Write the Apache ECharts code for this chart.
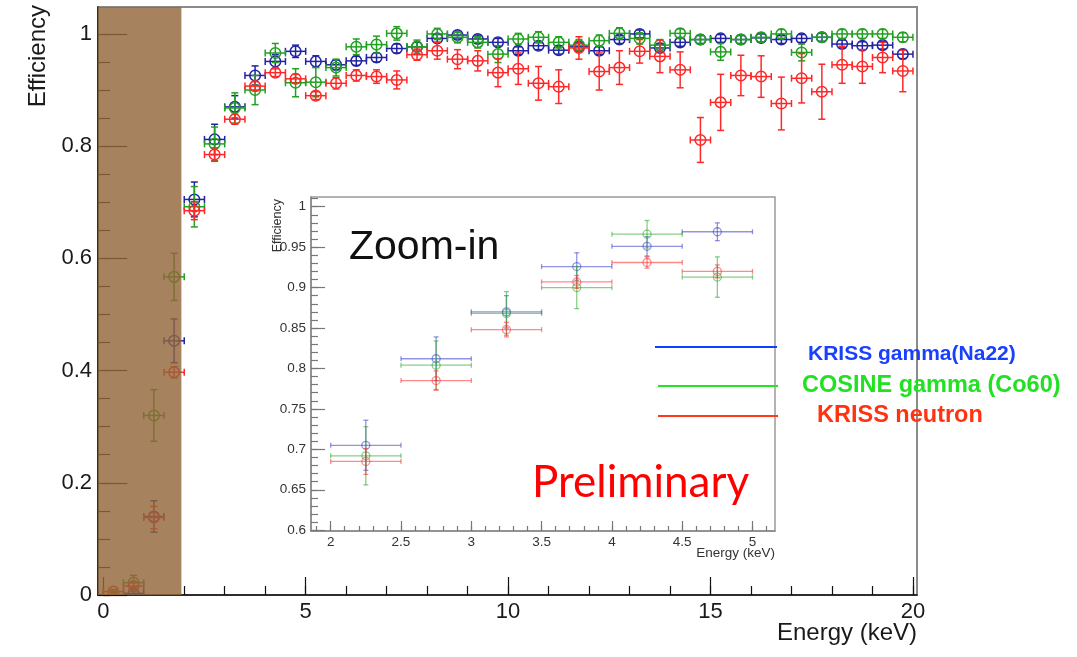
<!DOCTYPE html>
<html>
<head>
<meta charset="utf-8">
<script src="https://cdn.jsdelivr.net/npm/echarts@6/dist/echarts.min.js"></script>
<style>
html,body{margin:0;padding:0;background:#fff;}
#chart{width:1077px;height:657px;}
</style>
</head>
<body>
<div id="chart"></div>
<script>
// ---------------- data ----------------
const energy = [0.25,0.75,1.25,1.75,2.25,2.75,3.25,3.75,4.25,4.75,5.25,5.75,6.25,6.75,7.25,7.75,8.25,8.75,9.25,9.75,10.25,10.75,11.25,11.75,12.25,12.75,13.25,13.75,14.25,14.75,15.25,15.75,16.25,16.75,17.25,17.75,18.25,18.75,19.25,19.75];
const binHalfWidth = 0.25;

const krissGamma = [null,0.003,0.140,0.453,0.705,0.812,0.870,0.926,0.951,0.969,0.951,0.945,0.952,0.958,0.974,0.977,0.992,0.998,0.991,0.985,0.970,0.979,0.971,0.977,0.970,0.990,1.000,0.975,0.985,0.990,0.992,0.990,0.993,0.990,0.992,0.994,0.982,0.979,0.980,0.964];
const krissGammaErr = [null,0.004,0.028,0.039,0.031,0.027,0.020,0.017,0.012,0.011,0.010,0.009,0.008,0.008,0.008,0.008,0.007,0.007,0.007,0.007,0.007,0.007,0.007,0.007,0.007,0.007,0.007,0.007,0.007,0.007,0.007,0.007,0.007,0.007,0.007,0.007,0.007,0.007,0.007,0.008];

const cosineGamma = [0.000,0.022,0.320,0.567,0.692,0.804,0.868,0.900,0.966,0.913,0.914,0.940,0.977,0.981,1.001,0.977,1.000,0.994,0.985,0.964,0.991,0.994,0.985,0.980,0.988,1.001,0.992,0.980,1.001,0.990,0.968,0.990,0.994,1.000,0.967,0.994,1.000,1.000,1.000,0.994];
const cosineGammaErr = [0.004,0.013,0.046,0.042,0.036,0.030,0.027,0.026,0.017,0.025,0.026,0.015,0.014,0.015,0.012,0.012,0.010,0.010,0.010,0.015,0.010,0.010,0.010,0.010,0.010,0.010,0.010,0.010,0.008,0.008,0.015,0.008,0.008,0.008,0.015,0.008,0.008,0.008,0.008,0.008];

const krissNeutron = [0.006,0.016,0.138,0.397,0.685,0.785,0.848,0.907,0.931,0.920,0.890,0.912,0.926,0.924,0.918,0.963,0.970,0.955,0.952,0.931,0.938,0.912,0.906,0.975,0.933,0.940,0.969,0.960,0.936,0.811,0.878,0.926,0.924,0.876,0.921,0.897,0.945,0.942,0.958,0.934];
const krissNeutronErr = [0.004,0.006,0.020,0.010,0.016,0.012,0.009,0.008,0.007,0.008,0.007,0.010,0.010,0.012,0.016,0.010,0.015,0.017,0.018,0.025,0.028,0.030,0.030,0.020,0.033,0.030,0.021,0.029,0.032,0.040,0.050,0.036,0.037,0.047,0.044,0.049,0.033,0.030,0.027,0.037];

const shadedEnergyRange = [-0.13, 1.93];

// tick labels
const mainXMajor = [0,5,10,15,20];
const mainXMinor = [0,1,2,3,4,5,6,7,8,9,10,11,12,13,14,15,16,17,18,19,20];
const mainYMajor = [0,0.2,0.4,0.6,0.8,1];
const mainYMinor = [0,0.05,0.1,0.15,0.2,0.25,0.3,0.35,0.4,0.45,0.5,0.55,0.6,0.65,0.7,0.75,0.8,0.85,0.9,0.95,1];
const insetXMajor = [2,2.5,3,3.5,4,4.5,5];
const insetXMinor = [1.9,2,2.1,2.2,2.3,2.4,2.5,2.6,2.7,2.8,2.9,3,3.1,3.2,3.3,3.4,3.5,3.6,3.7,3.8,3.9,4,4.1,4.2,4.3,4.4,4.5,4.6,4.7,4.8,4.9,5,5.1];
const insetYMajor = [0.6,0.65,0.7,0.75,0.8,0.85,0.9,0.95,1];
const insetYMinor = [0.6,0.61,0.62,0.63,0.64,0.65,0.66,0.67,0.68,0.69,0.7,0.71,0.72,0.73,0.74,0.75,0.76,0.77,0.78,0.79,0.8,0.81,0.82,0.83,0.84,0.85,0.86,0.87,0.88,0.89,0.9,0.91,0.92,0.93,0.94,0.95,0.96,0.97,0.98,0.99,1,1.01];
const insetRange = [2, 5];

const legendNames = ['KRISS gamma(Na22)', 'COSINE gamma (Co60)', 'KRISS neutron'];

// ---------------- chart ----------------
const FONT = '"Liberation Sans", Arial, Helvetica, sans-serif';
const MAIN = {xmin:-0.13, xmax:20.1, ymin:0, ymax:1.048};
const INSET = {xmin:1.86, xmax:5.16, ymin:0.599, ymax:1.012};

function pts(vals, errs, filter) {
  const out = [];
  for (let i = 0; i < energy.length; i++) {
    if (vals[i] == null) continue;
    if (filter && (energy[i] < filter[0] || energy[i] > filter[1])) continue;
    out.push([energy[i], vals[i], errs[i], binHalfWidth]);
  }
  return out;
}

function errRender(color, radius, cap, lw, opacity) {
  return function (params, api) {
    const x = api.value(0), y = api.value(1), ey = api.value(2), ex = api.value(3);
    const c = api.coord([x, y]);
    const l = api.coord([x - ex, y]);
    const r = api.coord([x + ex, y]);
    const t = api.coord([x, y + ey]);
    const b = api.coord([x, y - ey]);
    const st = {stroke: color, lineWidth: lw, fill: null, opacity: opacity};
    const line = (x1, y1, x2, y2) => ({type: 'line', shape: {x1, y1, x2, y2}, style: st});
    return {
      type: 'group',
      children: [
        line(l[0], l[1], r[0], r[1]),
        line(t[0], t[1], b[0], b[1]),
        line(l[0], l[1] - cap, l[0], l[1] + cap),
        line(r[0], r[1] - cap, r[0], r[1] + cap),
        line(t[0] - cap, t[1], t[0] + cap, t[1]),
        line(b[0] - cap, b[1], b[0] + cap, b[1]),
        {type: 'circle', shape: {cx: c[0], cy: c[1], r: radius}, style: {stroke: color, lineWidth: lw, fill: null, opacity: opacity}}
      ]
    };
  };
}

const sets = [
  {name: legendNames[0], v: krissGamma, e: krissGammaErr, main: '#2222a4', inset: '#3a3acc'},
  {name: legendNames[1], v: cosineGamma, e: cosineGammaErr, main: '#22a022', inset: '#22aa22'},
  {name: legendNames[2], v: krissNeutron, e: krissNeutronErr, main: '#ff2828', inset: '#ff2a2a'}
];

const series = [];
sets.forEach(s => {
  series.push({
    type: 'custom', name: s.name, xAxisIndex: 1, yAxisIndex: 1, clip: true, z: 3,
    renderItem: errRender(s.main, 5.3, 3.5, 1.5, 1),
    data: pts(s.v, s.e)
  });
});
sets.forEach(s => {
  series.push({
    type: 'custom', name: s.name + ' (zoom)', xAxisIndex: 3, yAxisIndex: 3, clip: true, z: 3,
    renderItem: errRender(s.inset, 4, 2.5, 1.3, 0.55),
    data: pts(s.v, s.e, insetRange)
  });
});
// shaded threshold region drawn over the points
series.push({
  type: 'custom', name: 'shade', xAxisIndex: 1, yAxisIndex: 1, clip: true, z: 5, silent: true,
  renderItem: function (params, api) {
    const p0 = api.coord([api.value(0), MAIN.ymax]);
    const p1 = api.coord([api.value(1), MAIN.ymin]);
    return {type: 'rect', shape: {x: p0[0], y: p0[1], width: p1[0] - p0[0], height: p1[1] - p0[1]},
      style: {fill: 'rgba(146,102,58,0.82)'}};
  },
  data: [shadedEnergyRange]
});

function axisCommon(ticks, len, labels, lineCfg, labelCfg) {
  return {
    axisLine: lineCfg ? {show: true, onZero: false, lineStyle: {color: lineCfg.color, width: lineCfg.width}} : {show: false},
    axisTick: {show: true, inside: true, length: len, customValues: ticks, lineStyle: {color: (labelCfg || lineCfg).tick, width: 1.2}},
    axisLabel: labels ? Object.assign({show: true, customValues: labels, fontFamily: FONT, hideOverlap: false}, labelCfg.label) : {show: false},
    splitLine: {show: false}
  };
}
function xAx(grid, r, ticks, len, labels, lineCfg, labelCfg) {
  return Object.assign({gridIndex: grid, type: 'value', min: r.xmin, max: r.xmax, position: 'bottom'},
    axisCommon(ticks, len, labels, lineCfg, labelCfg));
}
function yAx(grid, r, ticks, len, labels, lineCfg, labelCfg) {
  return Object.assign({gridIndex: grid, type: 'value', min: r.ymin, max: r.ymax, position: 'left'},
    axisCommon(ticks, len, labels, lineCfg, labelCfg));
}

function txt(x, y, text, size, color, opts) {
  return Object.assign({type: 'text', x: x, y: y, z: 50,
    style: Object.assign({text: text, fontSize: size, fontFamily: FONT, fill: color, align: 'left', verticalAlign: 'middle'}, (opts && opts.style) || {})},
    (opts && opts.el) || {});
}

const option = {
  backgroundColor: '#ffffff',
  animation: false,
  grid: [
    {left: 98, top: 7, width: 819, height: 588, show: true, borderColor: '#8a8a8a', borderWidth: 2, backgroundColor: 'transparent'},
    {left: 311, top: 197, width: 464, height: 334, show: true, borderColor: '#9a9a9a', borderWidth: 1.5, backgroundColor: '#ffffff'}
  ],
  xAxis: [
    xAx(0, MAIN, mainXMinor, 9, null, {color: '#111', width: 1.5, tick: '#111'}),
    xAx(0, MAIN, mainXMajor, 18, mainXMajor, null, {tick: '#111', label: {fontSize: 22, color: '#1a1a1a', margin: 6}}),
    xAx(1, INSET, insetXMinor, 5, null, {color: '#888', width: 1.5, tick: '#777'}),
    xAx(1, INSET, insetXMajor, 10, insetXMajor, null, {tick: '#777', label: {fontSize: 13.5, color: '#333', margin: 4}})
  ],
  yAxis: [
    yAx(0, MAIN, mainYMinor, 12, null, {color: '#111', width: 1.5, tick: '#111'}),
    yAx(0, MAIN, mainYMajor, 24, mainYMajor, null, {tick: '#111', label: {fontSize: 22, color: '#1a1a1a', margin: 6}}),
    yAx(1, INSET, insetYMinor, 7, null, {color: '#888', width: 1.5, tick: '#777'}),
    yAx(1, INSET, insetYMajor, 14, insetYMajor, null, {tick: '#777', label: {fontSize: 13.5, color: '#333', margin: 5}})
  ],
  series: series,
  graphic: [
    txt(917, 633, 'Energy (keV)', 24, '#1a1a1a', {style: {align: 'right'}}),
    txt(38, 5, 'Efficiency', 24, '#1a1a1a', {style: {align: 'right'}, el: {rotation: Math.PI / 2}}),
    txt(775, 553, 'Energy (keV)', 13.5, '#333', {style: {align: 'right'}}),
    txt(278, 199, 'Efficiency', 12.5, '#333', {style: {align: 'right'}, el: {rotation: Math.PI / 2}}),
    txt(349, 248, 'Zoom-in', 41, '#111'),
    txt(532, 483, 'Preliminary', 44, '#ff0000', {style: {fontFamily: 'Lato, "Liberation Sans", Arial, sans-serif'}}),
    {type: 'line', z: 50, shape: {x1: 655, y1: 347, x2: 777, y2: 347}, style: {stroke: '#1040ff', lineWidth: 2}},
    {type: 'line', z: 50, shape: {x1: 658, y1: 386, x2: 778, y2: 386}, style: {stroke: '#22e622', lineWidth: 2}},
    {type: 'line', z: 50, shape: {x1: 658, y1: 416, x2: 778, y2: 416}, style: {stroke: '#ff3a1a', lineWidth: 2}},
    txt(808, 354, legendNames[0], 21, '#1a40ff', {style: {fontWeight: 'bold'}}),
    txt(802, 386, legendNames[1], 23.5, '#22e022', {style: {fontWeight: 'bold'}}),
    txt(817, 416, legendNames[2], 23.5, '#ff3311', {style: {fontWeight: 'bold'}})
  ]
};

const chart = echarts.init(document.getElementById('chart'));
chart.setOption(option);
</script>
</body>
</html>
